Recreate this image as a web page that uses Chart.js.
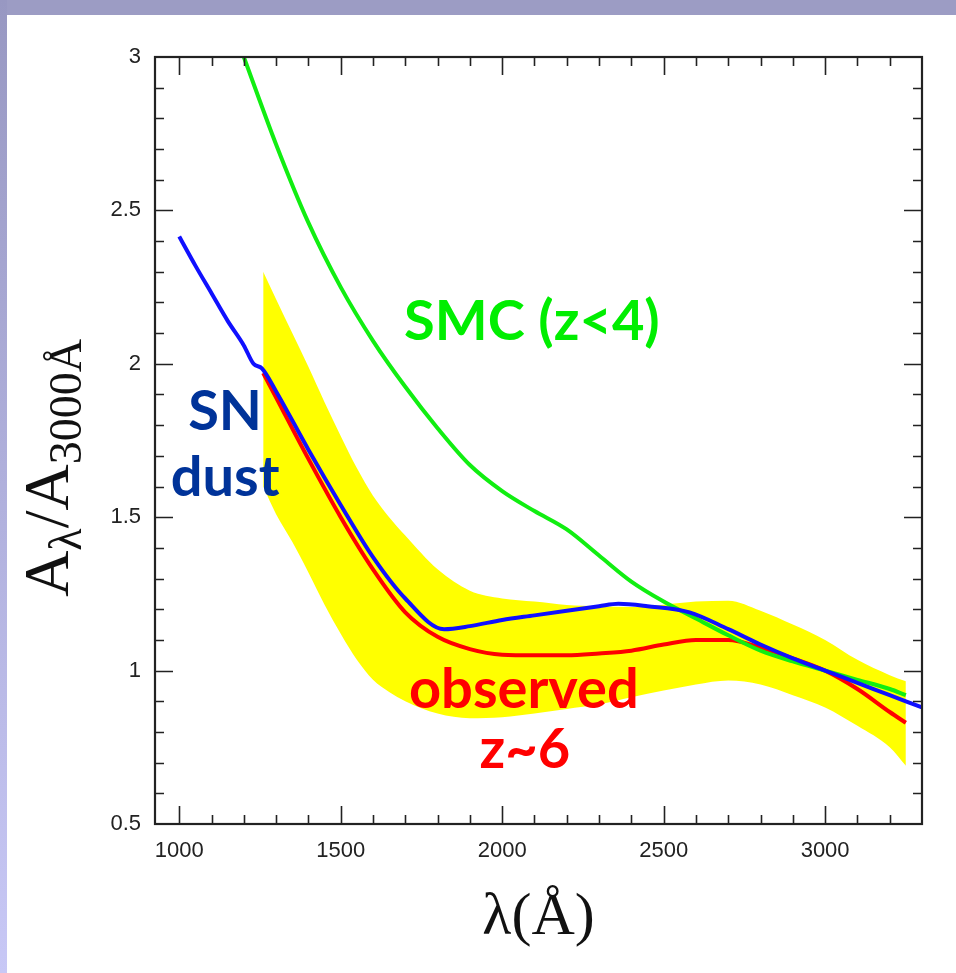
<!DOCTYPE html>
<html>
<head>
<meta charset="utf-8">
<title>Extinction curves</title>
<script src="https://cdn.jsdelivr.net/npm/chart.js@4.4.1/dist/chart.umd.min.js"></script>
<style>
  html, body { margin: 0; padding: 0; background: #fff; }
  #page { position: relative; width: 956px; height: 973px; overflow: hidden; background: #fff; }
  #topBand { position: absolute; left: 0; top: 0; width: 956px; height: 15px; background: #9c9cc4; }
  #leftBand { position: absolute; left: 0; top: 0; width: 7px; height: 973px; background: linear-gradient(#9898c2, #c8c8f6); }
  #extinctionChart { position: absolute; left: 0; top: 0; }
</style>
</head>
<body>
<div id="page">
  <div id="topBand"></div>
  <div id="leftBand"></div>
  <canvas id="extinctionChart" width="956" height="973"></canvas>
</div>
<script>
// SMC extinction curve (z<4)
const smcWave   = [1200, 1300, 1400, 1500, 1600, 1700, 1800, 1900, 2000, 2100, 2200, 2300, 2400, 2500, 2600, 2700, 2800, 2900, 3000, 3100, 3200, 3250];
const smcValues = [3.00, 2.715, 2.46, 2.25, 2.075, 1.925, 1.79, 1.67, 1.585, 1.52, 1.46, 1.375, 1.29, 1.225, 1.17, 1.115, 1.065, 1.03, 1.00, 0.97, 0.94, 0.92];

// SN dust model
const snWave   = [1000, 1050, 1100, 1150, 1200, 1230, 1256, 1300, 1400, 1500, 1600, 1700, 1820, 1900, 2000, 2100, 2200, 2300, 2360, 2450, 2580, 2700, 2800, 2900, 3000, 3100, 3200, 3300];
const snValues = [2.415, 2.32, 2.23, 2.14, 2.06, 2.00, 1.985, 1.91, 1.72, 1.54, 1.37, 1.235, 1.135, 1.145, 1.165, 1.18, 1.195, 1.21, 1.218, 1.21, 1.19, 1.135, 1.085, 1.04, 1.00, 0.96, 0.92, 0.88];

// observed z~6 mean curve
const obsWave   = [1260, 1300, 1400, 1500, 1600, 1700, 1800, 1900, 2000, 2100, 2200, 2300, 2400, 2500, 2600, 2700, 2800, 2900, 3000, 3100, 3200, 3250];
const obsValues = [1.97, 1.89, 1.69, 1.50, 1.33, 1.19, 1.11, 1.07, 1.052, 1.05, 1.05, 1.056, 1.065, 1.085, 1.10, 1.10, 1.075, 1.04, 1.00, 0.94, 0.865, 0.83];

// observed z~6 uncertainty band
const bandWave  = [1260, 1300, 1350, 1400, 1450, 1500, 1550, 1600, 1650, 1700, 1800, 1900, 2000, 2100, 2200, 2300, 2400, 2500, 2600, 2700, 2800, 2900, 3000, 3100, 3200, 3250];
const bandUpper = [2.30, 2.21, 2.10, 1.99, 1.875, 1.765, 1.66, 1.57, 1.50, 1.44, 1.33, 1.26, 1.235, 1.225, 1.214, 1.21, 1.207, 1.215, 1.225, 1.228, 1.195, 1.15, 1.10, 1.035, 0.985, 0.965];
const bandLower = [1.60, 1.51, 1.42, 1.32, 1.215, 1.12, 1.035, 0.97, 0.93, 0.90, 0.86, 0.845, 0.848, 0.86, 0.875, 0.89, 0.913, 0.935, 0.955, 0.968, 0.955, 0.92, 0.88, 0.82, 0.75, 0.69];

// axis ticks
const xTickValues = [1000, 1500, 2000, 2500, 3000];
const yTickValues = [0.5, 1, 1.5, 2, 2.5, 3];

// curve labels, placed in data coordinates
const curveLabels = [
  { text: 'SMC (z<4)', x: 2092, y: 2.136, color: '#00ee00' },
  { text: 'SN',        x: 1142, y: 1.843, color: '#003399' },
  { text: 'dust',      x: 1142, y: 1.628, color: '#003399' },
  { text: 'observed',  x: 2067, y: 0.937, color: '#ff0000' },
  { text: 'z~6',       x: 2070, y: 0.741, color: '#ff0000' }
];

function toPoints(xs, ys) {
  return xs.map((x, i) => ({ x: x, y: ys[i] }));
}

// Frame with inward ticks on all four sides
const frameTicks = {
  id: 'frameTicks',
  afterDraw(chart) {
    const ctx = chart.ctx;
    const a = chart.chartArea;
    const xs = chart.scales.x;
    const ys = chart.scales.y;
    ctx.save();
    ctx.strokeStyle = '#222';
    ctx.lineWidth = 1.6;
    ctx.beginPath();
    for (let v = 1000; v <= 3200; v += 100) {
      const px = Math.round(xs.getPixelForValue(v)) + 0.5;
      const len = v % 500 === 0 ? 18 : 9;
      ctx.moveTo(px, a.bottom); ctx.lineTo(px, a.bottom - len);
      ctx.moveTo(px, a.top); ctx.lineTo(px, a.top + len);
    }
    for (let i = 6; i <= 29; i++) {
      const py = Math.round(ys.getPixelForValue(i / 10)) + 0.5;
      const len = i % 5 === 0 ? 18 : 9;
      ctx.moveTo(a.left, py); ctx.lineTo(a.left + len, py);
      ctx.moveTo(a.right, py); ctx.lineTo(a.right - len, py);
    }
    ctx.stroke();
    ctx.lineWidth = 2.2;
    ctx.strokeRect(a.left, a.top, a.right - a.left, a.bottom - a.top);
    ctx.restore();
  }
};

// Axis titles with sub-scripts, serif like the plot package
const axisTitles = {
  id: 'axisTitles',
  afterDraw(chart) {
    const ctx = chart.ctx;
    const a = chart.chartArea;
    const big = '64px "Liberation Serif"';
    const small = '46px "Liberation Serif"';
    ctx.save();
    ctx.fillStyle = '#111';
    ctx.textBaseline = 'alphabetic';

    // y title: A_lambda / A_3000A, rotated
    const parts = [
      { t: 'A', f: big, dy: 0 },
      { t: 'λ', f: small, dy: 13 },
      { t: '/', f: big, dy: 0 },
      { t: 'A', f: big, dy: 0 },
      { t: '3000Å', f: small, dy: 13 }
    ];
    let total = 0;
    parts.forEach(p => { ctx.font = p.f; p.w = ctx.measureText(p.t).width; total += p.w; });
    ctx.translate(68, 468);
    ctx.rotate(-Math.PI / 2);
    let cx = -total / 2;
    parts.forEach(p => { ctx.font = p.f; ctx.fillText(p.t, cx, p.dy); cx += p.w; });
    ctx.setTransform(1, 0, 0, 1, 0, 0);

    // x title
    ctx.font = '60px "Liberation Serif"';
    ctx.textAlign = 'center';
    ctx.fillText('λ(Å)', (a.left + a.right) / 2, 934);
    ctx.restore();
  }
};

// Hand-written style curve labels
const curveText = {
  id: 'curveText',
  afterDatasetsDraw(chart) {
    const ctx = chart.ctx;
    const xs = chart.scales.x;
    const ys = chart.scales.y;
    ctx.save();
    ctx.font = 'bold 56px "Comic Sans MS", "Lato", sans-serif';
    ctx.textAlign = 'center';
    ctx.textBaseline = 'middle';
    curveLabels.forEach(l => {
      ctx.fillStyle = l.color;
      ctx.fillText(l.text, xs.getPixelForValue(l.x), ys.getPixelForValue(l.y));
    });
    ctx.restore();
  }
};

const lineStyle = {
  fill: false,
  pointRadius: 0,
  borderWidth: 4,
  cubicInterpolationMode: 'monotone'
};

const tickFont = { family: '"Liberation Sans", Arial, sans-serif', size: 22 };

new Chart(document.getElementById('extinctionChart'), {
  type: 'line',
  data: {
    datasets: [
      Object.assign({ label: 'SN dust', data: toPoints(snWave, snValues), borderColor: '#1010ff', order: 0 }, lineStyle),
      Object.assign({ label: 'SMC', data: toPoints(smcWave, smcValues), borderColor: '#11ee11', order: 1 }, lineStyle),
      Object.assign({ label: 'observed z~6', data: toPoints(obsWave, obsValues), borderColor: '#ff0000', order: 2 }, lineStyle),
      {
        label: 'band upper',
        data: toPoints(bandWave, bandUpper),
        fill: '+1',
        backgroundColor: '#ffff00',
        borderWidth: 0,
        pointRadius: 0,
        cubicInterpolationMode: 'monotone',
        order: 3
      },
      {
        label: 'band lower',
        data: toPoints(bandWave, bandLower),
        fill: false,
        borderWidth: 0,
        pointRadius: 0,
        cubicInterpolationMode: 'monotone',
        order: 4
      }
    ]
  },
  options: {
    responsive: false,
    animation: false,
    layout: { padding: { left: 0, top: 57, right: 34, bottom: 0 } },
    plugins: {
      legend: { display: false },
      tooltip: { enabled: false }
    },
    scales: {
      x: {
        type: 'linear',
        min: 925,
        max: 3300,
        grid: { display: false, drawTicks: false },
        border: { display: false },
        afterBuildTicks: s => { s.ticks = xTickValues.map(v => ({ value: v })); },
        afterFit: s => { s.height = 149; },
        ticks: {
          padding: 14,
          color: '#222',
          font: tickFont,
          callback: v => String(v)
        }
      },
      y: {
        type: 'linear',
        min: 0.5,
        max: 3,
        grid: { display: false, drawTicks: false },
        border: { display: false },
        afterBuildTicks: s => { s.ticks = yTickValues.map(v => ({ value: v })); },
        afterFit: s => { s.width = 155; },
        ticks: {
          padding: 14,
          color: '#222',
          font: tickFont,
          callback: v => String(v)
        }
      }
    }
  },
  plugins: [frameTicks, axisTitles, curveText]
});
</script>
</body>
</html>
